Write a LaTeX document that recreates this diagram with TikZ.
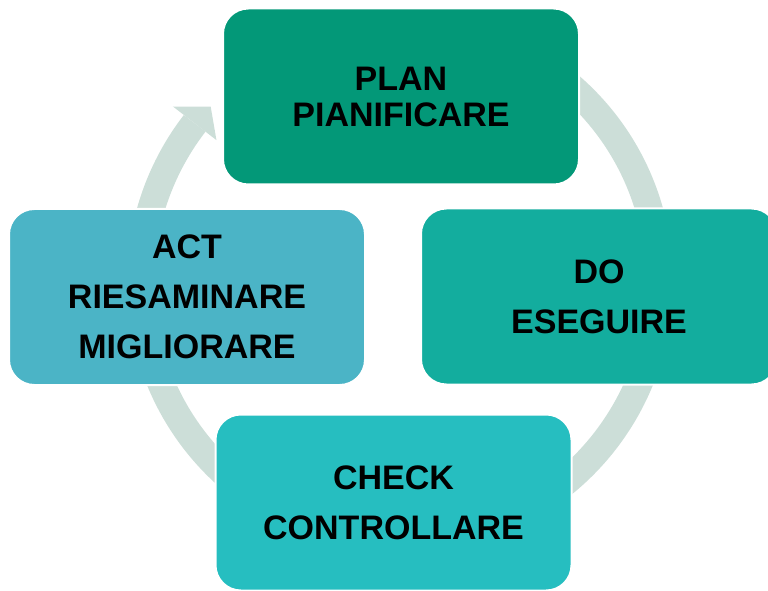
\documentclass[tikz,border=0pt]{standalone}
\usepackage{fontspec}
\setmainfont{Liberation Sans}
\usetikzlibrary{positioning}
\definecolor{planfill}{RGB}{3,152,120}
\definecolor{dofill}{RGB}{19,173,158}
\definecolor{checkfill}{RGB}{38,190,192}
\definecolor{actfill}{RGB}{75,180,198}
\definecolor{ringfill}{RGB}{204,222,216}
\tikzset{phase/.style = {draw=white, line width=1.5pt, rounded corners=19pt,
                         minimum width=267pt, minimum height=132pt,
                         align=center, inner sep=0pt,
                         font=\bfseries\fontsize{25.5}{37.5}\selectfont}}
\tikzset{ring/.style = {draw=ringfill, line width=20.5pt}}

\begin{document}
\begin{tikzpicture}[x=0.75pt, y=0.75pt]
    \useasboundingbox (0, 0) rectangle (768, 590);
    \coordinate (center) at (400, 308);
    % cycle arrow behind the boxes
    \draw [ring] ([shift={(100:259.5)}]center) arc [start angle=100, end angle=-217.7, radius=194.6pt];
    \fill [ringfill] ([shift={(142.3:287)}]center) -- ([shift={(137.2:258)}]center)
                     -- ([shift={(142.3:232)}]center) -- cycle;
    \node [phase, fill=planfill, font=\bfseries\fontsize{25.5}{27}\selectfont]
          (plan) at (401, 493.5) {PLAN\\PIANIFICARE};
    \node [phase, fill=dofill] (do) at (599, 293.5) {DO\\ESEGUIRE};
    \node [phase, fill=checkfill] (check) at (393.5, 87.5) {CHECK\\CONTROLLARE};
    \node [phase, fill=actfill] (act) at (187, 293) {ACT\\RIESAMINARE\\MIGLIORARE};
\end{tikzpicture}
\end{document}
